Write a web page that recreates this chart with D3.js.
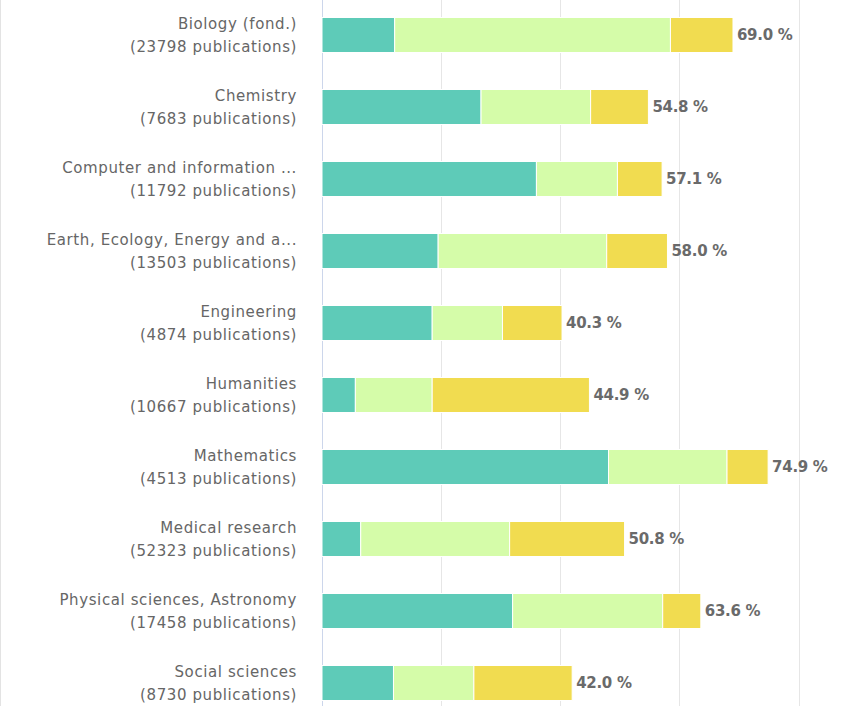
<!DOCTYPE html>
<html>
<head>
<meta charset="utf-8">
<script src="https://cdn.jsdelivr.net/npm/d3@7"></script>
<style>
  html, body { margin:0; padding:0; background:#fff; }
  svg { display:block; font-family:"DejaVu Sans", Verdana, sans-serif; }
</style>
</head>
<body>
<div id="chart"></div>
<script>
// Werte (%)
const categories = [
  'Biology (fond.)', 'Chemistry', 'Computer and information ...',
  'Earth, Ecology, Energy and a...', 'Engineering', 'Humanities',
  'Mathematics', 'Medical research', 'Physical sciences, Astronomy', 'Social sciences'
];
const publications = [23798, 7683, 11792, 13503, 4874, 10667, 4513, 52323, 17458, 8730];
const part1  = [12.2, 26.7, 36.0, 19.5, 18.5,  5.6, 48.1,  6.5, 32.0, 12.0];
const part2  = [46.3, 18.4, 13.6, 28.3, 11.8, 12.9, 19.9, 25.0, 25.2, 13.5];
const part3  = [10.5,  9.7,  7.5, 10.2, 10.0, 26.4,  6.9, 19.3,  6.4, 16.5];
const totals = [69.0, 54.8, 57.1, 58.0, 40.3, 44.9, 74.9, 50.8, 63.6, 42.0];
const xTicks = [0, 20, 40, 60, 80];

const colors = ['#5ecbb8', '#d5fca9', '#f1dc50'];

const W = 845, H = 706;
const svg = d3.select('#chart').append('svg')
  .attr('width', W).attr('height', H);

const rows = categories.map((c, i) => ({ cat:c, pubs:publications[i], a:part1[i], b:part2[i], c3:part3[i], total:totals[i] }));

const x = d3.scaleLinear().domain([0, 80]).range([322, 798.5]);
const y = d3.scaleBand().domain(categories).range([-1, 719])
  .paddingInner(0.514).paddingOuter(0.257);

// linker Rand
svg.append('line').attr('x1', 0.5).attr('x2', 0.5).attr('y1', 0).attr('y2', H)
  .attr('stroke', '#e3e3e3');

// Gitternetz
svg.append('g').selectAll('line').data(xTicks.slice(1)).enter().append('line')
  .attr('x1', d => Math.round(x(d)) + 0.5).attr('x2', d => Math.round(x(d)) + 0.5)
  .attr('y1', 0).attr('y2', H)
  .attr('stroke', '#e6e6e6');
svg.append('line')
  .attr('x1', Math.round(x(0)) + 0.5).attr('x2', Math.round(x(0)) + 0.5)
  .attr('y1', 0).attr('y2', H)
  .attr('stroke', '#ccd6eb');

// Balken
const stack = d3.stack().keys(['a', 'b', 'c3'])(rows);
svg.append('g').selectAll('g').data(stack).enter().append('g')
  .attr('fill', (d, i) => colors[i])
  .selectAll('rect').data(d => d).enter().append('rect')
    .attr('x', d => x(d[0]))
    .attr('y', d => y(d.data.cat))
    .attr('width', d => x(d[1]) - x(d[0]))
    .attr('height', y.bandwidth())
    .attr('stroke', '#fff').attr('stroke-width', 1);

// Summen
svg.append('g').selectAll('text').data(rows).enter().append('text')
  .attr('x', d => x(d.total) + 4)
  .attr('y', d => y(d.cat) + y.bandwidth() / 2)
  .attr('dy', '0.36em')
  .attr('font-size', 15).attr('font-weight', 'bold')
  .attr('letter-spacing', -0.3)
  .attr('fill', '#6a6a6a')
  .text(d => d.total.toFixed(1) + ' %');

// Kategorien
const lab = svg.append('g').selectAll('text').data(rows).enter().append('text')
  .attr('text-anchor', 'end')
  .attr('font-size', 15).attr('fill', '#666')
  .attr('letter-spacing', 0.6);
lab.append('tspan')
  .attr('x', 297).attr('y', d => y(d.cat) + y.bandwidth() / 2 - 11.5).attr('dy', '0.36em')
  .text(d => d.cat);
lab.append('tspan')
  .attr('x', 297).attr('y', d => y(d.cat) + y.bandwidth() / 2 + 11.5).attr('dy', '0.36em')
  .text(d => '(' + d.pubs + ' publications)');
</script>
</body>
</html>
